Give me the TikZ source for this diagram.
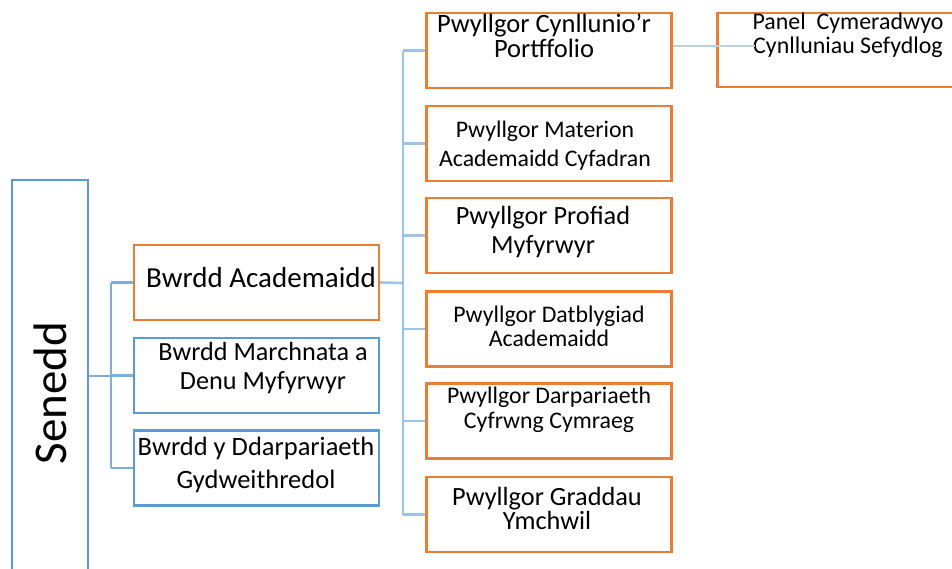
\documentclass[tikz,border=0pt]{standalone}
\usepackage{fontspec}
\setmainfont{Carlito}
\definecolor{bordor}{HTML}{ED7D31}
\definecolor{borblue}{HTML}{5B9BD5}
\definecolor{linkblue}{HTML}{9DC3E6}

\begin{document}
\begin{tikzpicture}
  [x=1pt,y=-1pt,
   box/.style={rectangle,draw,line width=2.4pt,inner sep=0pt,minimum width=245pt,minimum height=75pt},
   obox/.style={box,draw=bordor},
   bbox/.style={box,draw=borblue},
   txt/.style={align=center,inner sep=0pt,anchor=base},
   link/.style={draw=linkblue,line width=2.6pt}]
  \useasboundingbox (0,0) rectangle (952,568);

  % boxes
  \node[bbox,minimum width=76pt,minimum height=420pt] (sen) at (50,390) {};
  \node[obox] (acad) at (256.5,282.5) {};
  \node[bbox] (mark) at (256.5,375.5) {};
  \node[bbox] (coop) at (256.5,468) {};
  \node[obox] (portf) at (549,50.5) {};
  \node[obox] (mat) at (549,143.5) {};
  \node[obox] (prof) at (549,235.5) {};
  \node[obox] (datb) at (549,329) {};
  \node[obox] (darp) at (549,421) {};
  \node[obox] (grad) at (549,514.5) {};
  \node[obox,minimum height=74pt] (panel) at (840,50) {};

  % texts (base = last line)
  \node[rotate=90,inner sep=0pt,font=\fontsize{47}{47}\selectfont] (sent) at (50.5,393) {Senedd};
  \node[txt,font=\fontsize{29}{30}\selectfont] (acadt) at (261,287) {Bwrdd Academaidd};
  \node[txt,font=\fontsize{26.2}{29}\selectfont] (markt) at (263,389) {Bwrdd Marchnata a\\Denu Myfyrwyr};
  \node[txt,font=\fontsize{26.5}{33}\selectfont] (coopt) at (256,488) {Bwrdd y Ddarpariaeth\\Gydweithredol};
  \node[txt,font=\fontsize{26.5}{25}\selectfont] (portft) at (544,57) {Pwyllgor Cynllunio’r\\Portffolio};
  \node[txt,font=\fontsize{23.8}{29}\selectfont] (matt) at (545,166) {Pwyllgor Materion\\Academaidd Cyfadran};
  \node[txt,font=\fontsize{26.3}{29}\selectfont] (proft) at (543,253) {Pwyllgor Profiad\\Myfyrwyr};
  \node[txt,font=\fontsize{23.8}{24}\selectfont] (datbt) at (549,346) {Pwyllgor Datblygiad\\Academaidd};
  \node[txt,font=\fontsize{23.8}{25}\selectfont] (darpt) at (549,428) {Pwyllgor Darpariaeth\\Cyfrwng Cymraeg};
  \node[txt,font=\fontsize{26.3}{24}\selectfont] (gradt) at (547,529) {Pwyllgor Graddau\\Ymchwil};
  \node[txt,font=\fontsize{23.9}{24}\selectfont] (panelt) at (848,53) {Panel\ \ Cymeradwyo\\Cynlluniau Sefydlog};

  % connectors
  \coordinate (j1) at (111,376);
  \coordinate (j2) at (403,283);
  \coordinate (pj) at (755,46);
  \draw[link,draw=borblue!80] (sen.east |- j1) -- (j1);
  \draw[link,draw=borblue!80] (j1 |- acad) -- (j1 |- coop);
  \foreach \to in {acad,mark,coop}
    \draw[link,draw=borblue!80] (j1 |- \to) -- (\to.west);
  \draw[link] (acad.east) -- (j2);
  \draw[link] (j2 |- portf) -- (j2 |- grad);
  \foreach \to in {portf,mat,prof,datb,darp,grad}
    \draw[link] (j2 |- \to) -- (\to.west);
  \draw[draw=linkblue!70!gray!60,line width=1.2pt] (portf.east |- pj) -- (pj);
\end{tikzpicture}
\end{document}
